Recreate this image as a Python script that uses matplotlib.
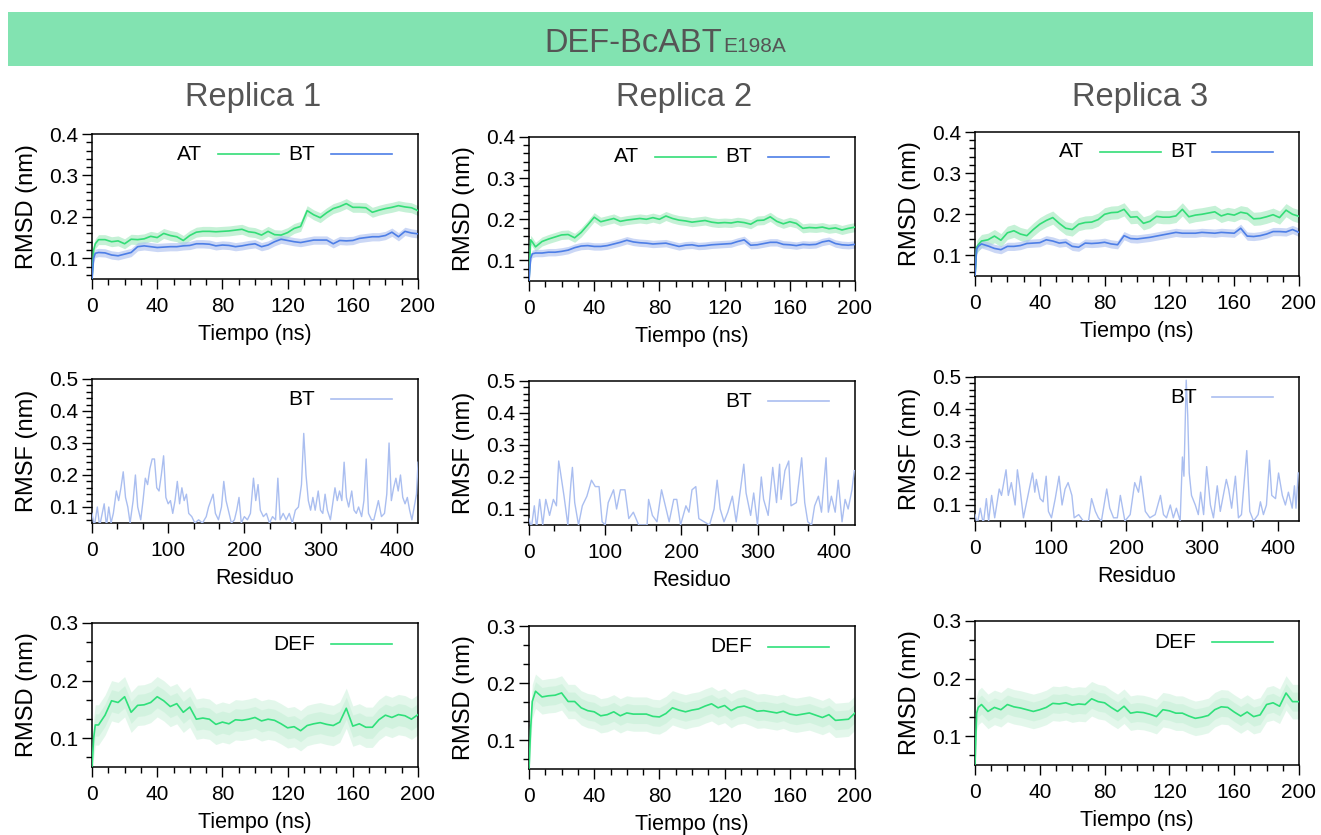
import matplotlib
matplotlib.use("Agg")
import matplotlib.pyplot as plt
from matplotlib.patches import Rectangle
from matplotlib.ticker import MultipleLocator, FormatStrFormatter
import numpy as np

plt.rcParams['font.family'] = ['Liberation Sans', 'DejaVu Sans']

# ---------------- data ----------------
TITLE_MAIN = "DEF-BcABT"
TITLE_SUB = "E198A"
REPLICAS = ["Replica 1", "Replica 2", "Replica 3"]

TIME = [0, 1, 2] + list(range(4, 201, 4))  # ns

at_r1 = [0.050, 0.120, 0.135, 0.145, 0.145, 0.140, 0.142, 0.135, 0.146, 0.145,
         0.147, 0.153, 0.150, 0.160, 0.155, 0.152, 0.143, 0.155, 0.163, 0.165,
         0.165, 0.164, 0.165, 0.166, 0.168, 0.170, 0.164, 0.162, 0.156, 0.165,
         0.157, 0.156, 0.162, 0.172, 0.177, 0.215, 0.205, 0.198, 0.210, 0.220,
         0.225, 0.232, 0.223, 0.223, 0.222, 0.211, 0.216, 0.220, 0.223, 0.227,
         0.224, 0.222, 0.215]
bt_r1 = [0.050, 0.100, 0.112, 0.114, 0.113, 0.108, 0.106, 0.110, 0.114, 0.128,
         0.130, 0.128, 0.126, 0.127, 0.128, 0.128, 0.130, 0.131, 0.135, 0.135,
         0.134, 0.130, 0.132, 0.131, 0.128, 0.130, 0.133, 0.135, 0.128, 0.132,
         0.140, 0.146, 0.143, 0.140, 0.138, 0.141, 0.144, 0.144, 0.144, 0.135,
         0.143, 0.142, 0.143, 0.148, 0.150, 0.152, 0.152, 0.155, 0.163, 0.152,
         0.165, 0.161, 0.159]
at_r2 = [0.050, 0.150, 0.145, 0.133, 0.146, 0.152, 0.157, 0.162, 0.163, 0.155,
         0.168, 0.186, 0.205, 0.194, 0.198, 0.202, 0.195, 0.198, 0.200, 0.202,
         0.200, 0.204, 0.200, 0.208, 0.202, 0.198, 0.196, 0.193, 0.195, 0.197,
         0.193, 0.191, 0.192, 0.191, 0.194, 0.192, 0.188, 0.197, 0.198, 0.206,
         0.195, 0.189, 0.194, 0.190, 0.178, 0.180, 0.179, 0.181, 0.177, 0.179,
         0.174, 0.178, 0.181]
bt_r2 = [0.050, 0.105, 0.116, 0.118, 0.118, 0.120, 0.120, 0.122, 0.125, 0.131,
         0.135, 0.136, 0.134, 0.134, 0.136, 0.140, 0.144, 0.149, 0.145, 0.143,
         0.142, 0.140, 0.141, 0.142, 0.138, 0.134, 0.137, 0.138, 0.135, 0.136,
         0.138, 0.139, 0.140, 0.141, 0.146, 0.150, 0.137, 0.138, 0.141, 0.144,
         0.144, 0.139, 0.138, 0.136, 0.139, 0.138, 0.139, 0.145, 0.148, 0.141,
         0.138, 0.137, 0.139]
at_r3 = [0.050, 0.120, 0.126, 0.135, 0.138, 0.147, 0.137, 0.155, 0.160, 0.152,
         0.148, 0.163, 0.176, 0.185, 0.192, 0.178, 0.166, 0.163, 0.176, 0.180,
         0.181, 0.187, 0.200, 0.204, 0.205, 0.212, 0.193, 0.194, 0.178, 0.183,
         0.195, 0.193, 0.193, 0.196, 0.212, 0.194, 0.198, 0.200, 0.203, 0.206,
         0.196, 0.201, 0.198, 0.205, 0.202, 0.189, 0.190, 0.194, 0.199, 0.192,
         0.210, 0.200, 0.195]
bt_r3 = [0.050, 0.115, 0.122, 0.128, 0.123, 0.117, 0.114, 0.122, 0.122, 0.124,
         0.129, 0.130, 0.131, 0.138, 0.135, 0.130, 0.132, 0.122, 0.120, 0.130,
         0.129, 0.130, 0.132, 0.128, 0.126, 0.148, 0.141, 0.140, 0.142, 0.144,
         0.147, 0.150, 0.153, 0.156, 0.154, 0.154, 0.154, 0.156, 0.155, 0.154,
         0.156, 0.155, 0.154, 0.166, 0.147, 0.146, 0.148, 0.152, 0.158, 0.158,
         0.157, 0.163, 0.156]

def_r1 = [0.050, 0.100, 0.123, 0.123, 0.140, 0.165, 0.162, 0.172, 0.145, 0.157,
          0.158, 0.162, 0.172, 0.165, 0.155, 0.160, 0.145, 0.154, 0.133, 0.135,
          0.133, 0.124, 0.128, 0.125, 0.132, 0.131, 0.133, 0.136, 0.130, 0.133,
          0.131, 0.125, 0.118, 0.120, 0.113, 0.122, 0.125, 0.127, 0.124, 0.122,
          0.128, 0.152, 0.121, 0.125, 0.119, 0.119, 0.132, 0.140, 0.136, 0.141,
          0.139, 0.133, 0.141]
def_r2 = [0.050, 0.120, 0.168, 0.186, 0.176, 0.178, 0.179, 0.183, 0.168, 0.168,
          0.157, 0.152, 0.150, 0.143, 0.145, 0.150, 0.143, 0.148, 0.146, 0.146,
          0.146, 0.142, 0.141, 0.147, 0.157, 0.153, 0.150, 0.153, 0.155, 0.160,
          0.164, 0.157, 0.161, 0.152, 0.158, 0.160, 0.156, 0.151, 0.152, 0.150,
          0.148, 0.151, 0.146, 0.144, 0.146, 0.148, 0.144, 0.140, 0.145, 0.135,
          0.136, 0.137, 0.148]
def_r3 = [0.050, 0.140, 0.150, 0.155, 0.143, 0.150, 0.146, 0.155, 0.151, 0.149,
          0.146, 0.143, 0.146, 0.150, 0.157, 0.156, 0.158, 0.154, 0.156, 0.155,
          0.165, 0.160, 0.158, 0.150, 0.143, 0.152, 0.140, 0.142, 0.141, 0.138,
          0.134, 0.146, 0.144, 0.140, 0.140, 0.135, 0.131, 0.133, 0.136, 0.146,
          0.151, 0.150, 0.142, 0.135, 0.142, 0.134, 0.137, 0.155, 0.158, 0.152,
          0.175, 0.160, 0.160]

# typical fluctuation (half width of raw-data cloud) for each series, nm
at_spread = [0.012, 0.011, 0.016]
bt_spread = [0.010, 0.009, 0.010]
def_spread = [0.035, 0.030, 0.030]

res_r1 = [0, 3, 7, 10, 16, 19, 22, 25, 28, 32, 35, 38, 41, 44, 47, 50, 54, 57, 60, 64,
          67, 70, 73, 76, 79, 82, 85, 88, 91, 94, 97, 100, 103, 106, 109, 112, 115, 118, 121, 124,
          127, 131, 135, 140, 145, 150, 153, 156, 159, 162, 166, 170, 173, 176, 179, 183, 187, 190, 193, 196,
          200, 204, 208, 212, 215, 218, 221, 225, 229, 233, 237, 241, 244, 247, 251, 255, 259, 263, 267, 271,
          275, 278, 281, 284, 287, 290, 293, 297, 300, 303, 306, 309, 313, 316, 319, 322, 325, 328, 331, 334,
          337, 341, 344, 347, 350, 354, 357, 360, 363, 367, 370, 373, 376, 380, 384, 387, 390, 393, 396, 399,
          402, 405, 408, 411, 414, 417, 420, 423, 426, 428]
rmsf_r1 = [0.08, 0.04, 0.10, 0.04, 0.11, 0.04, 0.10, 0.05, 0.08, 0.15, 0.12, 0.16, 0.21, 0.13, 0.10, 0.05, 0.12, 0.20, 0.10, 0.06,
           0.12, 0.19, 0.17, 0.22, 0.25, 0.25, 0.16, 0.15, 0.20, 0.26, 0.13, 0.11, 0.12, 0.08, 0.12, 0.18, 0.11, 0.16, 0.12, 0.14,
           0.08, 0.07, 0.05, 0.06, 0.05, 0.07, 0.10, 0.12, 0.14, 0.08, 0.06, 0.10, 0.18, 0.12, 0.09, 0.05, 0.06, 0.09, 0.13, 0.05,
           0.07, 0.06, 0.08, 0.19, 0.12, 0.17, 0.09, 0.07, 0.08, 0.05, 0.07, 0.06, 0.19, 0.06, 0.08, 0.06, 0.08, 0.05, 0.09, 0.10,
           0.17, 0.33, 0.20, 0.12, 0.09, 0.13, 0.09, 0.15, 0.09, 0.08, 0.14, 0.09, 0.06, 0.11, 0.16, 0.12, 0.15, 0.12, 0.24, 0.13,
           0.10, 0.15, 0.09, 0.08, 0.10, 0.07, 0.12, 0.25, 0.08, 0.06, 0.06, 0.09, 0.12, 0.07, 0.08, 0.14, 0.30, 0.12, 0.16, 0.19,
           0.15, 0.20, 0.13, 0.11, 0.13, 0.09, 0.06, 0.10, 0.14, 0.24]

res_r2 = [0, 3, 7, 10, 14, 18, 22, 27, 32, 36, 39, 41, 46, 51, 55, 57, 60, 65, 70, 76,
          82, 87, 92, 96, 100, 104, 111, 115, 120, 126, 131, 137, 144, 150, 155, 157, 162, 168, 174, 177,
          184, 190, 194, 199, 206, 210, 214, 219, 223, 230, 237, 243, 247, 251, 256, 261, 267, 272, 277, 282,
          285, 291, 295, 300, 305, 308, 314, 320, 325, 329, 331, 336, 341, 344, 351, 358, 362, 366, 371, 375,
          380, 384, 390, 393, 397, 402, 406, 411, 415, 419, 424, 427]
rmsf_r2 = [0.07, 0.04, 0.11, 0.04, 0.13, 0.05, 0.13, 0.08, 0.13, 0.11, 0.25, 0.22, 0.14, 0.05, 0.18, 0.23, 0.12, 0.05, 0.11, 0.14,
           0.19, 0.17, 0.17, 0.06, 0.05, 0.12, 0.16, 0.10, 0.16, 0.16, 0.07, 0.09, 0.05, 0.05, 0.05, 0.13, 0.08, 0.06, 0.16, 0.13,
           0.06, 0.13, 0.13, 0.05, 0.11, 0.09, 0.16, 0.17, 0.07, 0.06, 0.05, 0.10, 0.19, 0.10, 0.06, 0.09, 0.14, 0.06, 0.15, 0.24,
           0.15, 0.08, 0.15, 0.05, 0.20, 0.13, 0.08, 0.23, 0.12, 0.24, 0.13, 0.22, 0.25, 0.11, 0.12, 0.26, 0.12, 0.06, 0.05, 0.11,
           0.14, 0.09, 0.26, 0.09, 0.14, 0.09, 0.19, 0.06, 0.13, 0.10, 0.16, 0.22]

res_r3 = [0, 3, 7, 11, 15, 18, 22, 26, 32, 35, 41, 44, 48, 53, 56, 59, 64, 70, 76, 79,
          81, 86, 90, 94, 97, 101, 106, 111, 115, 119, 123, 128, 131, 137, 143, 150, 154, 159, 163, 167,
          174, 178, 183, 188, 192, 198, 205, 211, 216, 219, 225, 231, 238, 245, 249, 253, 258, 262, 266, 271,
          274, 276, 279, 281, 283, 286, 291, 295, 298, 302, 306, 311, 315, 320, 324, 328, 332, 335, 339, 344,
          348, 352, 359, 363, 368, 374, 377, 381, 385, 389, 392, 397, 401, 406, 410, 414, 419, 422, 424, 427]
rmsf_r3 = [0.07, 0.04, 0.09, 0.04, 0.12, 0.05, 0.13, 0.06, 0.15, 0.13, 0.21, 0.13, 0.17, 0.10, 0.21, 0.16, 0.06, 0.13, 0.20, 0.14,
           0.18, 0.12, 0.11, 0.19, 0.08, 0.06, 0.12, 0.19, 0.10, 0.15, 0.17, 0.13, 0.06, 0.07, 0.05, 0.05, 0.12, 0.08, 0.06, 0.05,
           0.15, 0.09, 0.06, 0.06, 0.13, 0.05, 0.07, 0.17, 0.14, 0.19, 0.08, 0.06, 0.07, 0.13, 0.07, 0.06, 0.10, 0.06, 0.09, 0.05,
           0.25, 0.19, 0.49, 0.38, 0.20, 0.13, 0.10, 0.07, 0.14, 0.07, 0.22, 0.10, 0.06, 0.16, 0.08, 0.13, 0.18, 0.15, 0.09, 0.19,
           0.06, 0.07, 0.27, 0.08, 0.05, 0.07, 0.11, 0.07, 0.10, 0.24, 0.13, 0.12, 0.20, 0.13, 0.10, 0.14, 0.09, 0.16, 0.09, 0.20]

AT = [at_r1, at_r2, at_r3]
BT = [bt_r1, bt_r2, bt_r3]
DEF = [def_r1, def_r2, def_r3]
RES = [res_r1, res_r2, res_r3]
RMSF = [rmsf_r1, rmsf_r2, rmsf_r3]

# ---------------- style ----------------
W, H = 1321, 835
C_AT = '#33dd77'
C_AT_BAND = '#a6eac0'
C_BT = '#4d7ee6'
C_BT_BAND = '#afc2f1'
C_RMSF = '#aabef0'
C_DEF = '#2fe07a'
C_DEF_BAND = '#c2efd4'
C_TXT = '#555555'

# axes boxes in pixels: (left, top, right, bottom)
BOXES = [
    [(92, 134, 418, 279), (529, 137, 855, 281), (975, 132, 1299, 276)],
    [(92, 379, 418, 523), (529, 381, 855, 525), (975, 377, 1299, 521)],
    [(92, 623, 418, 767), (529, 626, 855, 769), (975, 621, 1299, 765)],
]
REPLICA_X = [253, 684, 1140]

fig = plt.figure(figsize=(W / 100, H / 100), dpi=100)
fig.patch.set_facecolor('white')

# banner
fig.patches.append(Rectangle((8 / W, 1 - 66 / H), (1313 - 8) / W, (66 - 12) / H,
                             transform=fig.transFigure, facecolor='#82e3b1',
                             edgecolor='none', zorder=0))
fig.text(722 / W, 1 - 52 / H, TITLE_MAIN, ha='right', va='baseline',
         fontsize=23.5, color=C_TXT)
fig.text(723 / W, 1 - 52 / H, TITLE_SUB, ha='left', va='baseline',
         fontsize=15, color=C_TXT)
for name, xc in zip(REPLICAS, REPLICA_X):
    fig.text(xc / W, 1 - 106 / H, name, ha='center', va='baseline',
             fontsize=23.5, color=C_TXT)


def make_axes(box):
    l, t, r, b = box
    ax = fig.add_axes([l / W, 1 - b / H, (r - l) / W, (b - t) / H])
    for s in ax.spines.values():
        s.set_linewidth(1.1)
        s.set_color('black')
    ax.tick_params(which='both', direction='out', top=False, right=False,
                   labelsize=15, width=1.0)
    ax.tick_params(which='major', length=7)
    ax.tick_params(which='minor', length=4)
    ax.tick_params(axis='x', pad=6)
    ax.tick_params(axis='y', pad=3)
    ax.yaxis.set_major_formatter(FormatStrFormatter('%.1f'))
    return ax


def legend(ax, entries):
    # entries: (label, color, text right x, line x0, line x1, y) in axes coords
    for label, color, tx, x0, x1, y in entries:
        ax.text(tx, y, label, transform=ax.transAxes, ha='right', va='center',
                fontsize=15, color='black')
        ax.plot([x0, x1], [y, y], transform=ax.transAxes, color=color,
                lw=1.2, clip_on=False)


t = np.array(TIME, dtype=float)
for j in range(3):
    # ---- row 1: RMSD AT / BT
    ax = make_axes(BOXES[0][j])
    at = np.array(AT[j]); bt = np.array(BT[j])
    ax.fill_between(t, at - at_spread[j], at + at_spread[j], color=C_AT_BAND,
                    lw=0, alpha=0.65, zorder=1)
    ax.fill_between(t, bt - bt_spread[j], bt + bt_spread[j], color=C_BT_BAND,
                    lw=0, alpha=0.65, zorder=1)
    ax.plot(t, at, color=C_AT, lw=1.2, zorder=3)
    ax.plot(t, bt, color=C_BT, lw=1.2, zorder=3)
    ax.set_xlim(0, 200); ax.set_ylim(0.05, 0.4)
    ax.xaxis.set_major_locator(MultipleLocator(40))
    ax.xaxis.set_minor_locator(MultipleLocator(10))
    ax.yaxis.set_major_locator(MultipleLocator(0.1))
    ax.yaxis.set_minor_locator(MultipleLocator(0.02))
    ax.set_xlabel('Tiempo (ns)', fontsize=15.5, labelpad=6)
    ax.set_ylabel('RMSD (nm)', fontsize=17, labelpad=8)
    legend(ax, [('AT', C_AT, 0.337, 0.387, 0.574, 0.862),
                ('BT', C_BT, 0.684, 0.733, 0.920, 0.862)])

    # ---- row 2: RMSF BT
    ax = make_axes(BOXES[1][j])
    ax.plot(RES[j], RMSF[j], color=C_RMSF, lw=1.0, zorder=3)
    ax.set_xlim(0, 428); ax.set_ylim(0.05, 0.5)
    ax.xaxis.set_major_locator(MultipleLocator(100))
    ax.xaxis.set_minor_locator(MultipleLocator(100 / 3))
    ax.yaxis.set_major_locator(MultipleLocator(0.1))
    ax.yaxis.set_minor_locator(MultipleLocator(0.02))
    ax.set_xlabel('Residuo', fontsize=15.5, labelpad=6)
    ax.set_ylabel('RMSF (nm)', fontsize=17, labelpad=8)
    legend(ax, [('BT', C_RMSF, 0.684, 0.733, 0.920, 0.861)])

    # ---- row 3: RMSD DEF
    ax = make_axes(BOXES[2][j])
    d = np.array(DEF[j])
    ax.fill_between(t, d - def_spread[j], d + def_spread[j], color=C_DEF_BAND,
                    lw=0, alpha=0.45, zorder=1)
    ax.fill_between(t, d - def_spread[j] * 0.55, d + def_spread[j] * 0.55,
                    color=C_DEF_BAND, lw=0, alpha=0.5, zorder=1)
    ax.plot(t, d, color=C_DEF, lw=1.2, zorder=3)
    ax.set_xlim(0, 200); ax.set_ylim(0.05, 0.3)
    ax.xaxis.set_major_locator(MultipleLocator(40))
    ax.xaxis.set_minor_locator(MultipleLocator(10))
    ax.yaxis.set_major_locator(MultipleLocator(0.1))
    ax.yaxis.set_minor_locator(MultipleLocator(0.1 / 3))
    ax.set_xlabel('Tiempo (ns)', fontsize=15.5, labelpad=6)
    ax.set_ylabel('RMSD (nm)', fontsize=17, labelpad=8)
    legend(ax, [('DEF', C_DEF, 0.684, 0.733, 0.920, 0.854)])

fig.savefig('out.png', dpi=100, facecolor='white')
